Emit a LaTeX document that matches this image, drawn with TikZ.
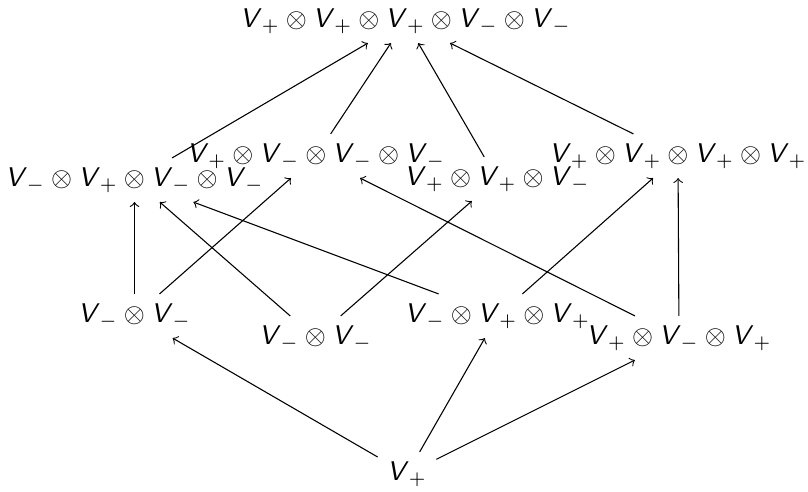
\documentclass[tikz,border=0pt]{standalone}
\newcommand\VV{\textsf{\textit{V}}}
\tikzset{vsnode/.style={inner sep=0.3333em}, edgearrow/.style={->}}
\begin{document}
\begin{tikzpicture}[x=0.37pt,y=-0.37pt]
\useasboundingbox (0,0) rectangle (808,491);
\node[vsnode] (T) at (405.5,21) {$\VV_+\otimes\VV_+\otimes\VV_+\otimes\VV_-\otimes\VV_-$};
\node[vsnode] (A) at (134.5,180) {$\VV_-\otimes\VV_+\otimes\VV_-\otimes\VV_-$};
\node[vsnode] (B) at (316,156) {$\VV_+\otimes\VV_-\otimes\VV_-\otimes\VV_-$};
\node[vsnode] (C) at (497,179) {$\VV_+\otimes\VV_+\otimes\VV_-$};
\node[vsnode] (D) at (678,156) {$\VV_+\otimes\VV_+\otimes\VV_+\otimes\VV_+$};
\node[vsnode] (E) at (134.5,316) {$\VV_-\otimes\VV_-$};
\node[vsnode] (F) at (315.5,338) {$\VV_-\otimes\VV_-$};
\node[vsnode] (G) at (497.5,316) {$\VV_-\otimes\VV_+\otimes\VV_+$};
\node[vsnode] (H) at (679,338) {$\VV_+\otimes\VV_-\otimes\VV_+$};
\node[vsnode] (P) at (407,474) {$\VV_+$};
\draw[edgearrow] (P) -- (E);
\draw[edgearrow] (P) -- (G);
\draw[edgearrow] (P) -- (H);
\draw[edgearrow] (E) -- (A);
\draw[edgearrow] (E) -- (B);
\draw[edgearrow] (F) -- (A);
\draw[edgearrow] (F) -- (C);
\draw[edgearrow] (G) -- (A);
\draw[edgearrow] (G) -- (D);
\draw[edgearrow] (H) -- (B);
\draw[edgearrow] (H) -- (D);
\draw[edgearrow] (A) -- (T);
\draw[edgearrow] (B) -- (T);
\draw[edgearrow] (C) -- (T);
\draw[edgearrow] (D) -- (T);
\end{tikzpicture}
\end{document}
